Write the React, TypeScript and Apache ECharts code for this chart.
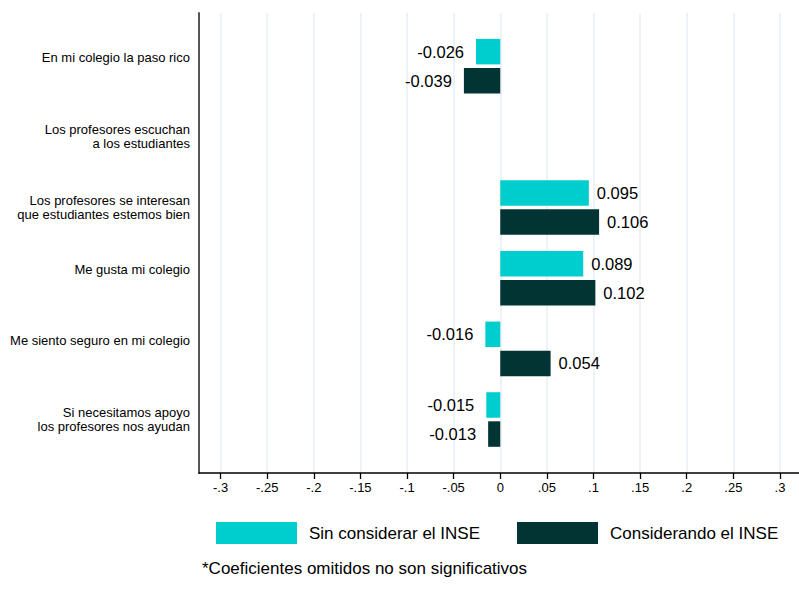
import React, { useEffect, useRef } from 'react';
import * as echarts from 'echarts';

const categories = [
  'En mi colegio la paso rico',
  'Los profesores escuchan\na los estudiantes',
  'Los profesores se interesan\nque estudiantes estemos bien',
  'Me gusta mi colegio',
  'Me siento seguro en mi colegio',
  'Si necesitamos apoyo\nlos profesores nos ayudan',
];
const seriesNames = ['Sin considerar el INSE', 'Considerando el INSE'];
const sinInse: (number | null)[] = [-0.026, null, 0.095, 0.089, -0.016, -0.015];
const conInse: (number | null)[] = [-0.039, null, 0.106, 0.102, 0.054, -0.013];
const tickValues = [-0.3, -0.25, -0.2, -0.15, -0.1, -0.05, 0, 0.05, 0.1, 0.15, 0.2, 0.25, 0.3];
const footnote = '*Coeficientes omitidos no son significativos';
const colors = ['#00cdcd', '#023434'];

const FONT = "'Liberation Sans', Arial, sans-serif";
const X_MIN = -0.3231;
const X_MAX = 0.3204;

const fmtTick = (v: number) => {
  if (Math.abs(v) < 1e-9) return '0';
  const r = Math.round(v * 100) / 100;
  return String(r).replace('0.', '.');
};

const toData = (arr: (number | null)[]) =>
  arr.map((v) =>
    v === null
      ? null
      : {
          value: v,
          label: { position: v < 0 ? 'left' : 'right', distance: v < 0 ? 12 : 8 },
        }
  );

export default function App() {
  const ref = useRef<HTMLDivElement>(null);
  useEffect(() => {
    if (!ref.current) return;
    const chart = echarts.init(ref.current, undefined, { renderer: 'svg' });
    const option: any = {
      animation: false,
      backgroundColor: '#ffffff',
      textStyle: { fontFamily: FONT, color: '#000' },
      grid: [
        { left: 199, top: 13, width: 600, height: 460, containLabel: false },
        { left: 199, top: 30.85, width: 600, height: 424, containLabel: false },
      ],
      xAxis: [
        {
          type: 'value',
          gridIndex: 0,
          min: X_MIN,
          max: X_MAX,
          axisLine: { show: true, onZero: false, lineStyle: { color: '#000', width: 1.5 } },
          axisTick: { show: true, length: 6, customValues: tickValues, lineStyle: { color: '#000', width: 1.3 } },
          axisLabel: {
            show: true,
            customValues: tickValues,
            formatter: (v: number) => fmtTick(v),
            fontSize: 13,
            color: '#000',
            fontFamily: FONT,
            margin: 8,
          },
          splitLine: { show: true, lineStyle: { color: '#e6eef2', width: 1.5 } },
        },
        {
          type: 'value',
          gridIndex: 1,
          min: X_MIN,
          max: X_MAX,
          show: false,
          splitLine: { show: false },
        },
      ],
      yAxis: [
        {
          type: 'value',
          gridIndex: 0,
          min: 0,
          max: 1,
          axisLine: { show: true, onZero: false, lineStyle: { color: '#555', width: 2 } },
          axisTick: { show: false },
          axisLabel: { show: false },
          splitLine: { show: false },
        },
        {
          type: 'category',
          gridIndex: 1,
          inverse: true,
          data: categories,
          axisLine: { show: false },
          axisTick: { show: false },
          splitLine: { show: false },
          axisLabel: {
            show: true,
            margin: 9,
            align: 'right',
            formatter: (value: string) => {
              const lines = value.split('\n');
              if (lines.length === 1) return `{s|${value}}`;
              return lines.map((l) => `{d|${l}}`).join('\n');
            },
            rich: {
              s: { fontSize: 13, lineHeight: 14, color: '#000', fontFamily: FONT, padding: [0, 0, 17, 0] },
              d: { fontSize: 13, lineHeight: 14, color: '#000', fontFamily: FONT },
            },
          },
        },
      ],
      legend: {
        data: seriesNames,
        left: 211,
        top: 517,
        orient: 'horizontal',
        icon: 'rect',
        itemWidth: 81,
        itemHeight: 22,
        itemGap: 37,
        textStyle: { fontSize: 17, color: '#000', fontFamily: FONT, padding: [0, 0, 0, 7] },
      },
      graphic: [
        {
          type: 'text',
          left: 202,
          top: 560,
          style: { text: footnote, fontSize: 17, fill: '#000', fontFamily: FONT },
        },
      ],
      series: [
        {
          name: seriesNames[0],
          type: 'bar',
          xAxisIndex: 1,
          yAxisIndex: 1,
          barWidth: 25.5,
          barGap: '14%',
          itemStyle: { color: colors[0] },
          label: {
            show: true,
            fontSize: 16.5,
            color: '#000',
            fontFamily: FONT,
            formatter: (p: any) => Number(p.value).toFixed(3),
          },
          data: toData(sinInse),
        },
        {
          name: seriesNames[1],
          type: 'bar',
          xAxisIndex: 1,
          yAxisIndex: 1,
          barWidth: 25.5,
          barGap: '14%',
          itemStyle: { color: colors[1] },
          label: {
            show: true,
            fontSize: 16.5,
            color: '#000',
            fontFamily: FONT,
            formatter: (p: any) => Number(p.value).toFixed(3),
          },
          data: toData(conInse),
        },
      ],
    };
    chart.setOption(option);
    return () => chart.dispose();
  }, []);
  return (
    <div
      ref={ref}
      style={{ position: 'absolute', left: 0, top: 0, width: 799, height: 592, background: '#fff' }}
    />
  );
}
